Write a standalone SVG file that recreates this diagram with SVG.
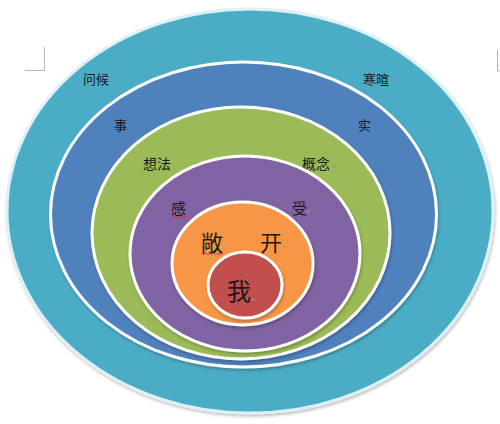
<svg xmlns="http://www.w3.org/2000/svg" width="500" height="424" viewBox="0 0 500 424">
<defs>
<style>
.ring{stroke:#ffffff;stroke-width:3}
.t{font-family:"Noto Sans CJK SC","Noto Sans CJK JP",sans-serif;fill:#1a1a1a}
.pm{font-family:"DejaVu Sans",sans-serif;font-size:7px;fill:#9a9a9a}
.mark{stroke:#b8b8b8;stroke-width:1;fill:none}
.wavy{stroke:#d03030;stroke-width:0.8;fill:none}
</style>
<filter id="sh" x="-10%" y="-10%" width="120%" height="120%">
<feDropShadow dx="1" dy="2" stdDeviation="1.5" flood-color="#000" flood-opacity="0.25"/>
</filter>
</defs>
<rect width="500" height="424" fill="#ffffff"/>
<g id="marks">
<path class="mark" d="M25 70.5H44.5V47"/>
<path class="mark" d="M497.5 50V71H500"/>
</g>
<g id="ring-outer">
<ellipse cx="250" cy="211" rx="243" ry="202" fill="#4BACC6" stroke="#DDF0F5" stroke-width="3" filter="url(#sh)"/>
<text class="t" x="83" y="84" font-size="13">问候</text>
<text class="t" x="363" y="84" font-size="13">寒暄</text>
<text class="pm" x="389" y="84">↵</text>
</g>
<g id="ring-blue">
<ellipse class="ring" cx="243.5" cy="214.5" rx="193" ry="152.5" fill="#4F81BD" filter="url(#sh)"/>
<text class="t" x="114" y="130" font-size="13">事</text>
<text class="t" x="358" y="130" font-size="13">实</text>
</g>
<g id="ring-green">
<ellipse class="ring" cx="241" cy="233" rx="149" ry="126" fill="#9BBB59" filter="url(#sh)"/>
<text class="t" x="143" y="169" font-size="14">想法</text>
<text class="t" x="302" y="169" font-size="14">概念</text>
<text class="pm" x="331" y="169">↵</text>
</g>
<g id="ring-purple">
<ellipse class="ring" cx="245" cy="253.5" rx="115" ry="97.5" fill="#8064A2" filter="url(#sh)"/>
<text class="t" x="171" y="214" font-size="15">感</text>
<path class="wavy" d="M171 217q1 -1.5 2 0t2 0t2 0t2 0t2 0t2 0t2 0t2 0"/>
<text class="t" x="292" y="214" font-size="15">受</text>
<text class="pm" x="306" y="214">↵</text>
</g>
<g id="ring-orange">
<ellipse class="ring" cx="242.5" cy="263.5" rx="70.5" ry="61.5" fill="#F79646" filter="url(#sh)"/>
<text class="t" x="201" y="251" font-size="22">敞</text>
<path class="wavy" d="M201 254q1 -1.5 2 0t2 0t2 0t2 0t2 0t2 0t2 0t2 0t2 0t2 0t2 0"/>
<text class="t" x="260" y="251" font-size="22">开</text>
<text class="pm" x="282" y="249">↵</text>
</g>
<g id="ring-red">
<ellipse class="ring" cx="245" cy="285" rx="37" ry="33" fill="#C0504D" filter="url(#sh)"/>
<text class="t" x="227" y="300" font-size="24">我</text>
<text class="pm" x="251" y="302">↵</text>
</g>
</svg>
